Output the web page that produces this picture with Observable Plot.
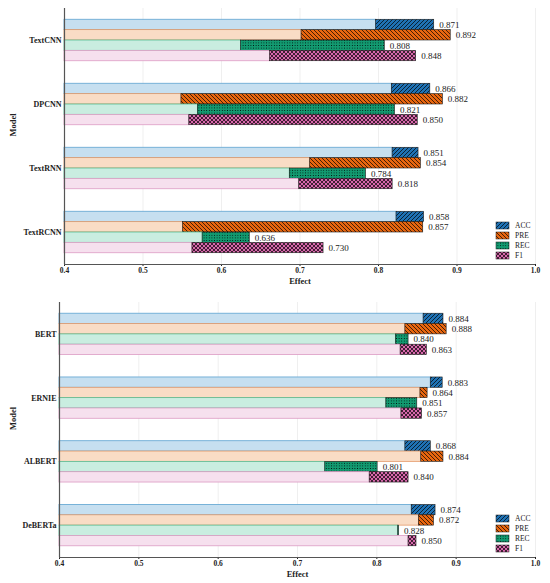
<!DOCTYPE html>
<html><head><meta charset="utf-8">
<script src="https://cdn.jsdelivr.net/npm/d3@7"></script>
<script src="https://cdn.jsdelivr.net/npm/@observablehq/plot@0.6"></script>
<style>
body{margin:0;background:#fff;}
#c{width:550px;}
#c svg{display:block;}
g[aria-label="x-axis tick label"]{font-size:7.5px;}
</style>
</head><body><div id="c"></div>
<script>
// ---- data ----
const metrics = ["ACC", "PRE", "REC", "F1"];
const xTicks = [0.4, 0.5, 0.6, 0.7, 0.8, 0.9, 1.0];

const models1 = ["TextCNN", "DPCNN", "TextRNN", "TextRCNN"];
const acc1 = [0.871, 0.866, 0.851, 0.858];
const pre1 = [0.892, 0.882, 0.854, 0.857];
const rec1 = [0.808, 0.821, 0.784, 0.636];
const f11  = [0.848, 0.850, 0.818, 0.730];
const accBase1 = [0.797, 0.817, 0.818, 0.823];
const preBase1 = [0.702, 0.549, 0.713, 0.551];
const recBase1 = [0.625, 0.570, 0.687, 0.576];
const f1Base1  = [0.662, 0.559, 0.699, 0.563];

const models2 = ["BERT", "ERNIE", "ALBERT", "DeBERTa"];
const acc2 = [0.884, 0.883, 0.868, 0.874];
const pre2 = [0.888, 0.864, 0.884, 0.872];
const rec2 = [0.840, 0.851, 0.801, 0.828];
const f12  = [0.863, 0.857, 0.840, 0.850];
const accBase2 = [0.859, 0.868, 0.836, 0.844];
const preBase2 = [0.836, 0.855, 0.856, 0.853];
const recBase2 = [0.824, 0.812, 0.735, 0.827];
const f1Base2  = [0.830, 0.831, 0.791, 0.840];

// ---- styles ----
const dark = ["#1f72b4", "#e8660f", "#129a70", "#d868ac"];
const pale = ["#c6dff0", "#f9dcc5", "#c9ede0", "#f6e0ee"];
const edge = ["#5ea3d0", "#e49a6a", "#56bd93", "#dc9cc4"];
const barH = 0.162;
const FONT = "'Liberation Serif', 'Times New Roman', Times, serif";

function addDefs(svg, id) {
  const defs = d3.select(svg).insert("defs", ":first-child");
  let p = defs.append("pattern").attr("id", `${id}-ACC`).attr("patternUnits", "userSpaceOnUse").attr("width", 4).attr("height", 4);
  p.append("rect").attr("width", 4).attr("height", 4).attr("fill", dark[0]);
  p.append("path").attr("d", "M-1,1L1,-1M0,4L4,0M3,5L5,3").attr("stroke", "#000").attr("stroke-width", 0.7);
  p = defs.append("pattern").attr("id", `${id}-PRE`).attr("patternUnits", "userSpaceOnUse").attr("width", 4).attr("height", 4);
  p.append("rect").attr("width", 4).attr("height", 4).attr("fill", dark[1]);
  p.append("path").attr("d", "M-1,3L1,5M0,0L4,4M3,-1L5,1").attr("stroke", "#000").attr("stroke-width", 0.7);
  p = defs.append("pattern").attr("id", `${id}-REC`).attr("patternUnits", "userSpaceOnUse").attr("width", 2.6).attr("height", 2.6);
  p.append("rect").attr("width", 2.6).attr("height", 2.6).attr("fill", dark[2]);
  p.append("circle").attr("cx", 1.3).attr("cy", 1.3).attr("r", 0.5).attr("fill", "#000");
  p = defs.append("pattern").attr("id", `${id}-F1`).attr("patternUnits", "userSpaceOnUse").attr("width", 4).attr("height", 4);
  p.append("rect").attr("width", 4).attr("height", 4).attr("fill", dark[3]);
  p.append("path").attr("d", "M0,0L4,4M4,0L0,4").attr("stroke", "#000").attr("stroke-width", 0.7);
}

function drawPanel(id, models, ends, bases, cfg) {
  const rows = [];
  models.forEach((m, i) => metrics.forEach((k, j) => rows.push({
    model: m, metric: k, j,
    base: bases[j][i], end: ends[j][i],
    y1: i + (j - 2) * barH, y2: i + (j - 1) * barH
  })));
  const marks = [Plot.ruleX(xTicks.slice(1), {stroke: "#ebebeb", strokeWidth: 0.8})];
  metrics.forEach((k, j) => {
    const sub = rows.filter(d => d.metric === k);
    marks.push(Plot.rect(sub, {x1: xTicks[0], x2: "base", y1: "y1", y2: "y2", fill: pale[j], stroke: edge[j], strokeWidth: 0.8}));
    marks.push(Plot.rect(sub, {x1: "base", x2: "end", y1: "y1", y2: "y2", fill: `url(#${id}-${k})`, stroke: "#1a1a1a", strokeWidth: 0.6}));
  });
  marks.push(Plot.text(rows, {x: "end", y: d => (d.y1 + d.y2) / 2, text: d => d.end.toFixed(3), textAnchor: "start", dx: 5, fontSize: 9, fontWeight: "normal", fill: "#222"}));
  marks.push(Plot.ruleX([xTicks[0]], {stroke: "#555", strokeWidth: 1.2}));
  marks.push(Plot.ruleY([models.length - 0.5], {stroke: "#555", strokeWidth: 1.2}));
  marks.push(Plot.text(["Effect"], {text: d => d, frameAnchor: "bottom", dy: 19, fontSize: 8.5, fontWeight: "bold", fill: "#222"}));
  marks.push(Plot.text(["Model"], {text: d => d, frameAnchor: "left", dx: cfg.modelDx, rotate: -90, fontSize: 8.5, fontWeight: "bold", fill: "#222"}));

  const chart = Plot.plot({
    width: 550, height: cfg.height,
    marginLeft: cfg.ml, marginRight: 15, marginTop: cfg.mt, marginBottom: cfg.mb,
    style: {fontFamily: FONT, fontSize: "8px", fontWeight: "bold", color: "#222", background: "#fff"},
    x: {domain: [xTicks[0], xTicks[xTicks.length - 1]], ticks: xTicks, tickFormat: d3.format(".1f"), tickSize: 2, tickPadding: 1, label: null},
    y: {domain: [models.length - 0.5, -0.5], ticks: d3.range(models.length), tickFormat: i => models[i], tickSize: 0, tickPadding: 3, label: null},
    marks
  });
  addDefs(chart, id);

  // legend (inside lower right)
  const xs = chart.scale("x"), ys = chart.scale("y");
  const right = xs.apply(xTicks[xTicks.length - 1]);
  const bottom = ys.apply(models.length - 0.5);
  const lg = d3.select(chart).append("g").attr("font-family", FONT).attr("font-size", 7.5)
    .attr("font-weight", "normal").attr("text-anchor", "start");
  metrics.forEach((k, j) => {
    const cy = bottom - 8.5 - (metrics.length - 1 - j) * 10;
    lg.append("rect").attr("x", right - 39).attr("y", cy - 3.5).attr("width", 13).attr("height", 7)
      .attr("fill", `url(#${id}-${k})`).attr("stroke", "#1a1a1a").attr("stroke-width", 0.5);
    lg.append("text").attr("x", right - 20).attr("y", cy).attr("dy", "0.35em").attr("fill", "#222").text(k);
  });
  document.getElementById("c").appendChild(chart);
}

drawPanel("p1", models1, [acc1, pre1, rec1, f11], [accBase1, preBase1, recBase1, f1Base1],
  {height: 293, ml: 64, mt: 8, mb: 29, modelDx: -51});
drawPanel("p2", models2, [acc2, pre2, rec2, f12], [accBase2, preBase2, recBase2, f1Base2],
  {height: 290, ml: 59, mt: 9, mb: 26, modelDx: -46});
</script>
</body></html>
